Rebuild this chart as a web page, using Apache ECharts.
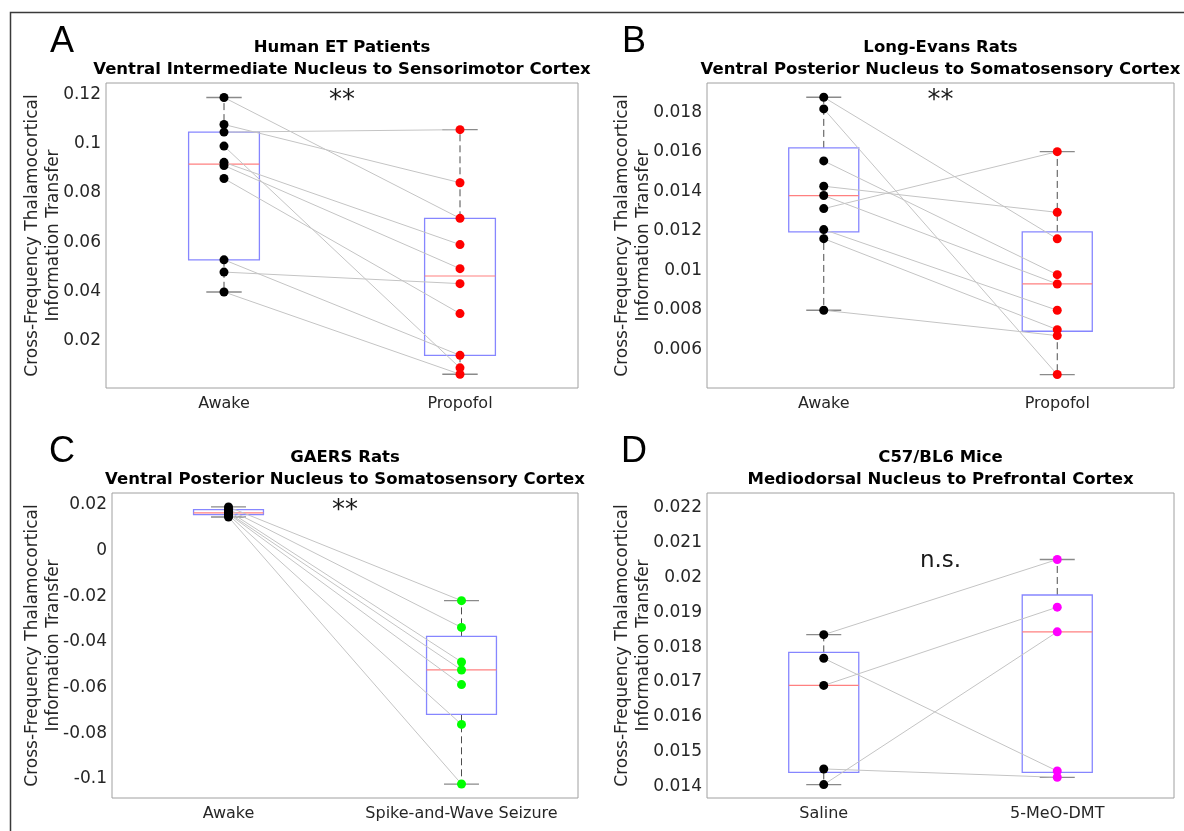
<!DOCTYPE html>
<html>
<head>
<meta charset="UTF-8">
<title>Thalamocortical information transfer</title>
<script src="https://cdn.jsdelivr.net/npm/echarts@6/dist/echarts.min.js"></script>
<style>
  html, body { margin: 0; padding: 0; background: #fff; }
  #chart { width: 1184px; height: 831px; }
</style>
</head>
<body>
<div id="chart"></div>
<script>
// A - human ET patients (paired, same order)
var catsA = ['Awake', 'Propofol'];
var awakeA = [0.1189, 0.1079, 0.1048, 0.0991, 0.0925, 0.0912, 0.0859, 0.0528, 0.0478, 0.0397];
var propofolA = [0.0697, 0.0842, 0.1058, 0.0088, 0.0590, 0.0492, 0.0309, 0.0139, 0.0431, 0.0062];
// box stats: min, q1, median, q3, max
var boxA = [[0.0397, 0.0528, 0.0918, 0.1048, 0.1189], [0.0062, 0.0139, 0.0462, 0.0697, 0.1058]];
var ticksA = [0.02, 0.04, 0.06, 0.08, 0.1, 0.12];

// B - long-evans rats
var catsB = ['Awake', 'Propofol'];
var awakeB = [0.01876, 0.01817, 0.01554, 0.01426, 0.01379, 0.01313, 0.01207, 0.01161, 0.00799];
var propofolB = [0.01160, 0.00474, 0.00979, 0.01294, 0.00932, 0.01601, 0.00799, 0.00701, 0.00671];
var boxB = [[0.00799, 0.01195, 0.01379, 0.0162, 0.01876], [0.00474, 0.00693, 0.00932, 0.01195, 0.01601]];
var ticksB = [0.006, 0.008, 0.01, 0.012, 0.014, 0.016, 0.018];

// C - GAERS rats
var catsC = ['Awake', 'Spike-and-Wave Seizure'];
var awakeC = [0.0190, 0.0180, 0.0172, 0.0164, 0.0160, 0.0155, 0.0146];
var seizureC = [-0.0220, -0.0337, -0.0488, -0.0523, -0.0587, -0.0761, -0.1022];
var boxC = [[0.0146, 0.0156, 0.0164, 0.0178, 0.0190], [-0.1022, -0.0717, -0.0523, -0.0376, -0.0220]];
var ticksC = [-0.1, -0.08, -0.06, -0.04, -0.02, 0, 0.02];

// D - C57/BL6 mice
var catsD = ['Saline', '5-MeO-DMT'];
var salineD = [0.01836, 0.01768, 0.01690, 0.01450, 0.01405];
var dmtD = [0.02052, 0.01444, 0.01915, 0.01426, 0.01844];
var boxD = [[0.01405, 0.0144, 0.0169, 0.01785, 0.01836], [0.01426, 0.0144, 0.01844, 0.0195, 0.02052]];
var ticksD = [0.014, 0.015, 0.016, 0.017, 0.018, 0.019, 0.02, 0.021, 0.022];

var yMin = [0.0006, 0.00406, -0.1083, 0.013665];
var yMax = [0.1248, 0.01948, 0.0251, 0.022431];

var titles = [
    'Human ET Patients\nVentral Intermediate Nucleus to Sensorimotor Cortex',
    'Long-Evans Rats\nVentral Posterior Nucleus to Somatosensory Cortex',
    'GAERS Rats\nVentral Posterior Nucleus to Somatosensory Cortex',
    'C57/BL6 Mice\nMediodorsal Nucleus to Prefrontal Cortex'
];
var letters = ['A', 'B', 'C', 'D'];
var sigText = ['**', '**', '**', 'n.s.'];
var sigY = [0.1184, 0.01869, 0.01825, 0.02049];

var panels = [
    { cats: catsA, a: awakeA, b: propofolA, box: boxA, ticks: ticksA, colB: '#ff0000' },
    { cats: catsB, a: awakeB, b: propofolB, box: boxB, ticks: ticksB, colB: '#ff0000' },
    { cats: catsC, a: awakeC, b: seizureC, box: boxC, ticks: ticksC, colB: '#00ff00' },
    { cats: catsD, a: salineD, b: dmtD, box: boxD, ticks: ticksD, colB: '#ff00ff' }
];

var grids = [
    { left: 106, top: 83, width: 472, height: 305 },
    { left: 707, top: 83, width: 467, height: 305 },
    { left: 112, top: 493, width: 466, height: 305 },
    { left: 707, top: 493, width: 467, height: 305 }
];
var FONT = 'DejaVu Sans';

function renderBox(params, api) {
    var x = api.value(0);
    var pMin = api.coord([x, api.value(1)]);
    var pQ1 = api.coord([x, api.value(2)]);
    var pMed = api.coord([x, api.value(3)]);
    var pQ3 = api.coord([x, api.value(4)]);
    var pMax = api.coord([x, api.value(5)]);
    var band = api.size([1, 0])[0];
    var hw = band * 0.15, cw = band * 0.075, cx = pMed[0];
    var dash = { stroke: '#4d4d4d', lineWidth: 1, lineDash: [7, 4] };
    var cap = { stroke: '#8a8a8a', lineWidth: 1.3 };
    return {
        type: 'group',
        children: [
            { type: 'line', shape: { x1: cx, y1: pQ3[1], x2: cx, y2: pMax[1] }, style: dash },
            { type: 'line', shape: { x1: cx, y1: pQ1[1], x2: cx, y2: pMin[1] }, style: dash },
            { type: 'line', shape: { x1: cx - cw, y1: pMax[1], x2: cx + cw, y2: pMax[1] }, style: cap },
            { type: 'line', shape: { x1: cx - cw, y1: pMin[1], x2: cx + cw, y2: pMin[1] }, style: cap },
            { type: 'rect', shape: { x: cx - hw, y: pQ3[1], width: 2 * hw, height: pQ1[1] - pQ3[1] },
              style: { fill: 'none', stroke: '#8686ff', lineWidth: 1.3 } },
            { type: 'line', shape: { x1: cx - hw, y1: pMed[1], x2: cx + hw, y2: pMed[1] },
              style: { stroke: '#ff8080', lineWidth: 1.2 } }
        ]
    };
}

var option = { animation: false, grid: [], xAxis: [], yAxis: [], series: [], graphic: [] };

panels.forEach(function (p, k) {
    var g = grids[k];
    option.grid.push({ left: g.left, top: g.top, width: g.width, height: g.height,
        show: true, borderColor: '#a0a0a0', borderWidth: 1 });
    var tick = { inside: true, length: 5, lineStyle: { color: '#8c8c8c' } };
    // bottom + top x axes (top only for mirrored ticks)
    option.xAxis.push({ gridIndex: k, type: 'category', data: p.cats, position: 'bottom',
        axisLine: { show: false }, splitLine: { show: false },
        axisTick: Object.assign({ alignWithLabel: true }, tick),
        axisLabel: { interval: 0, margin: 8, fontSize: 16, color: '#262626', fontFamily: FONT } });
    option.xAxis.push({ gridIndex: k, type: 'category', data: p.cats, position: 'top',
        axisLine: { show: false }, splitLine: { show: false },
        axisTick: Object.assign({ alignWithLabel: true }, tick), axisLabel: { show: false } });
    option.yAxis.push({ gridIndex: k, type: 'value', min: yMin[k], max: yMax[k], position: 'left',
        axisLine: { show: false }, splitLine: { show: false },
        axisTick: Object.assign({ customValues: p.ticks }, tick),
        axisLabel: { customValues: p.ticks, margin: 5, fontSize: 17, color: '#262626', fontFamily: FONT } });
    option.yAxis.push({ gridIndex: k, type: 'value', min: yMin[k], max: yMax[k], position: 'right',
        axisLine: { show: false }, splitLine: { show: false },
        axisTick: Object.assign({ customValues: p.ticks }, tick), axisLabel: { show: false } });

    var xi = 2 * k;
    option.series.push({ type: 'custom', xAxisIndex: xi, yAxisIndex: xi, renderItem: renderBox, silent: true, z: 2,
        data: p.box.map(function (s, i) { return [i].concat(s); }) });
    p.a.forEach(function (v, i) {
        option.series.push({ type: 'line', xAxisIndex: xi, yAxisIndex: xi, data: [[0, v], [1, p.b[i]]],
            symbol: 'none', silent: true, z: 3, lineStyle: { color: '#c4c4c4', width: 1 } });
    });
    option.series.push({ type: 'scatter', xAxisIndex: xi, yAxisIndex: xi, symbolSize: 9, z: 5,
        itemStyle: { color: '#000000', opacity: 1 }, data: p.a.map(function (v) { return [0, v]; }) });
    option.series.push({ type: 'scatter', xAxisIndex: xi, yAxisIndex: xi, symbolSize: 9, z: 5,
        itemStyle: { color: p.colB, opacity: 1 }, data: p.b.map(function (v) { return [1, v]; }) });
});

var chart = echarts.init(document.getElementById('chart'), null, { renderer: 'canvas' });
chart.setOption(option);

// texts outside the plot areas + significance marks
var gfx = [{ type: 'rect', left: 8, top: 10, shape: { width: 1300, height: 900 },
    style: { fill: 'none', stroke: '#3a3a3a', lineWidth: 1.5 }, z: 0 }];
grids.forEach(function (g, k) {
    var cx = g.left + g.width / 2;
    gfx.push({ type: 'text', x: cx, y: g.top - 24, z: 10,
        style: { text: titles[k], font: 'bold 16.5px "DejaVu Sans"', fill: '#000', align: 'center',
                 verticalAlign: 'middle', lineHeight: 22 } });
    gfx.push({ type: 'text', x: (k % 2 ? 634 : 62), y: g.top - 41, z: 10,
        style: { text: letters[k], font: '36px "Liberation Sans"', fill: '#000', align: 'center', verticalAlign: 'middle' } });
    gfx.push({ type: 'text', x: (k % 2 ? 633 : 43), y: g.top + g.height / 2, rotation: Math.PI / 2, z: 10,
        style: { text: 'Cross-Frequency Thalamocortical\nInformation Transfer', font: '17px "DejaVu Sans"',
                 fill: '#262626', align: 'center', verticalAlign: 'middle', lineHeight: 21 } });
    var x0 = chart.convertToPixel({ xAxisIndex: 2 * k }, 0);
    var x1 = chart.convertToPixel({ xAxisIndex: 2 * k }, 1);
    var sy = chart.convertToPixel({ yAxisIndex: 2 * k }, sigY[k]);
    gfx.push({ type: 'text', x: (x0 + x1) / 2, y: sy + (k === 3 ? 0 : 3), z: 10,
        style: { text: sigText[k], font: (k === 3 ? '23px' : '26px') + ' "DejaVu Sans"', fill: '#1a1a1a',
                 align: 'center', verticalAlign: 'middle' } });
});
chart.setOption({ graphic: gfx });
</script>
</body>
</html>
